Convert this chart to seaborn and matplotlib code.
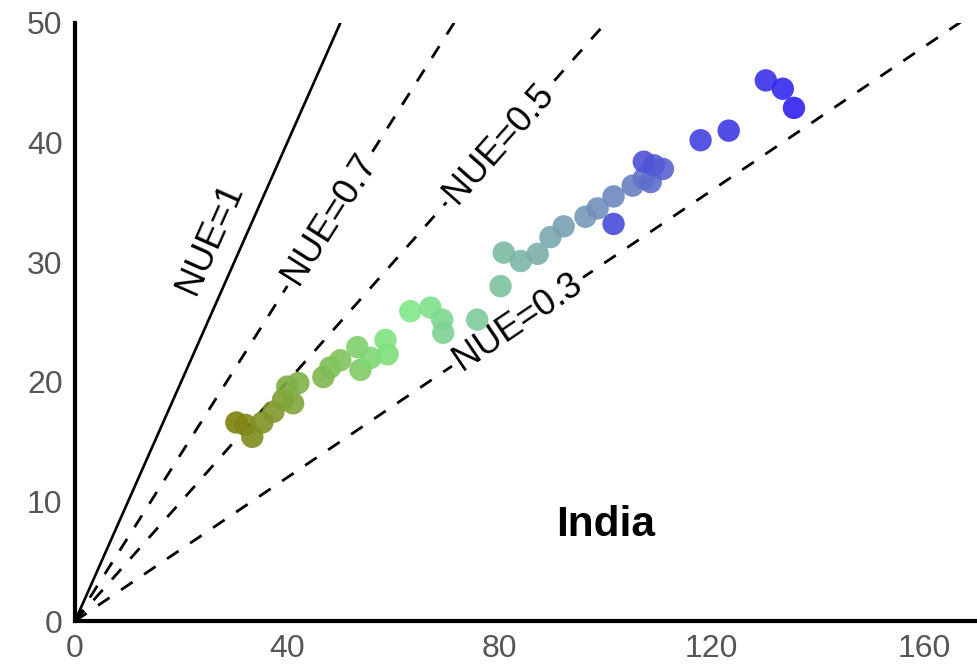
import numpy as np
import matplotlib
matplotlib.use("Agg")
import matplotlib.pyplot as plt
from matplotlib.colors import LinearSegmentedColormap
import seaborn as sns
import pandas as pd

# nitrogen input vs output (India), one point per year
n_input = [30.4, 32.1, 33.4, 35.3, 37.4, 39.2, 41.1, 40.0, 42.1, 46.8,
           48.1, 50.0, 53.8, 53.2, 55.7, 58.9, 58.5, 63.2, 67.0, 69.2,
           69.4, 75.8, 80.2, 80.8, 84.0, 87.2, 89.6, 92.1, 96.2, 98.5,
           101.5, 105.1, 107.2, 108.5, 110.8, 109.1, 107.2, 101.5, 117.9, 123.2,
           130.2, 133.4, 135.5]
n_output = [16.6, 16.4, 15.4, 16.6, 17.5, 18.5, 18.2, 19.6, 19.9, 20.4,
            21.2, 21.8, 21.0, 22.9, 22.0, 22.3, 23.5, 25.9, 26.2, 25.2,
            24.1, 25.2, 28.0, 30.8, 30.1, 30.7, 32.1, 33.0, 33.8, 34.5,
            35.5, 36.4, 37.0, 36.7, 37.8, 38.1, 38.4, 33.2, 40.2, 41.0,
            45.2, 44.5, 42.9]
years = list(range(1961, 1961 + len(n_input)))

nue_values = [1, 0.7, 0.5, 0.3]
nue_labels = ["NUE=1", "NUE=0.7", "NUE=0.5", "NUE=0.3"]
label_x = [25.4, 48.0, 79.9, 83.4]

xticks = [0, 40, 80, 120, 160]
yticks = [0, 10, 20, 30, 40, 50]

df = pd.DataFrame({"input": n_input, "output": n_output, "year": years})

sns.set_style("white")
plt.rcParams["font.family"] = ["Liberation Sans", "DejaVu Sans"]

cmap = LinearSegmentedColormap.from_list(
    "nue", [(0, "#80800f"), (0.4, "#80e888"), (0.65, "#7a9fb4"), (1.0, "#3020f0")])

fig = plt.figure(figsize=(9.77, 6.70), dpi=100)
ax = fig.add_axes([0.0768, 0.0731, 0.9232, 0.8926])

# reference NUE lines through the origin
xs = np.array([0, 200])
for k in nue_values:
    if k == 1:
        ax.plot(xs, k * xs, color="black", lw=1.9, zorder=1)
    else:
        ax.plot(xs, k * xs, color="black", lw=2.0, dashes=(5, 5), zorder=1)

sns.scatterplot(data=df, x="input", y="output", hue="year", palette=cmap,
                s=260, linewidth=0, alpha=0.9, legend=False, ax=ax, zorder=3)

for k, lab, lx in zip(nue_values, nue_labels, label_x):
    ang = np.degrees(np.arctan(k))
    if k == 1:
        ax.text(lx, 32.0, lab, fontsize=26, color="black", rotation=ang,
                transform_rotates_text=True, rotation_mode="anchor",
                ha="center", va="center", zorder=2)
    else:
        ax.text(lx, k * lx, lab, fontsize=26, color="black", rotation=ang,
                transform_rotates_text=True, rotation_mode="anchor",
                ha="center", va="center", zorder=2,
                bbox=dict(facecolor="white", edgecolor="none", pad=4))

ax.text(100, 8, "India", fontsize=30.5, fontweight="bold", color="black",
        ha="center", va="center")

ax.set_xlim(0, 170)
ax.set_ylim(0, 50)
ax.set_xticks(xticks)
ax.set_yticks(yticks)
ax.set_xlabel("")
ax.set_ylabel("")
ax.tick_params(axis="both", labelsize=23, labelcolor="#555555", color="#333333",
               length=6, width=2.5, direction="out", pad=3)
sns.despine(ax=ax)
for side in ["left", "bottom"]:
    ax.spines[side].set_linewidth(3)
    ax.spines[side].set_color("black")

fig.savefig("out.png", dpi=100)
